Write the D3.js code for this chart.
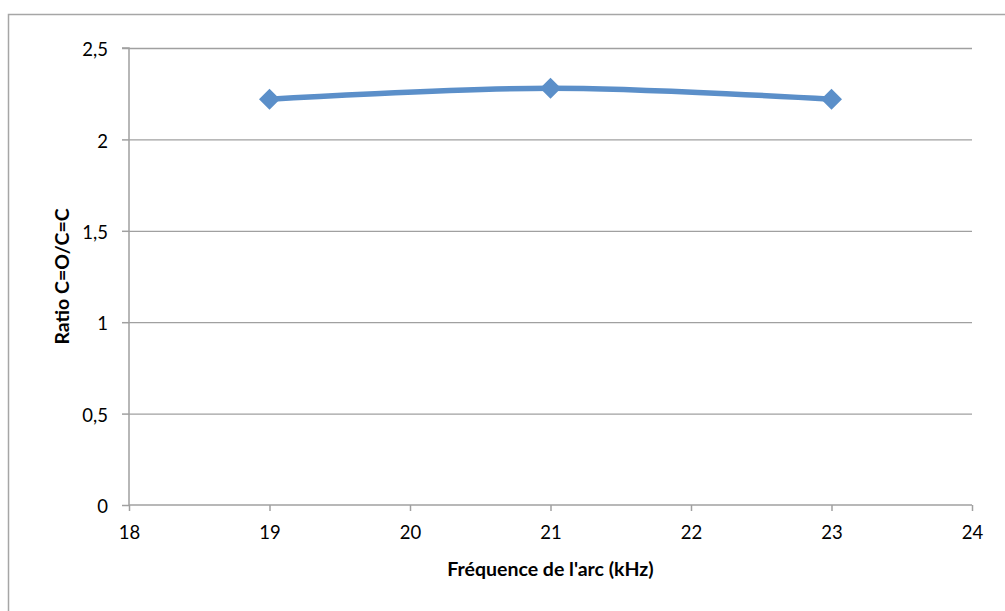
<!DOCTYPE html>
<html><head><meta charset="utf-8">
<script src="https://cdn.jsdelivr.net/npm/d3@7"></script>
<style>body{margin:0;background:#fff}svg{display:block}</style>
</head><body>
<svg id="c" width="1005" height="611"></svg>
<script>
const frequencies = [19, 21, 23];
const ratios = [2.22, 2.28, 2.22];
const xTicks = [18, 19, 20, 21, 22, 23, 24];
const yTicks = [0, 0.5, 1, 1.5, 2, 2.5];
const xTitle = "Fréquence de l'arc (kHz)";
const yTitle = "Ratio C=O/C=C";

const svg = d3.select("#c");
const font = "Lato, 'Open Sans', sans-serif";
// outer chart border (only left and top edges visible in the frame)
svg.append("path").attr("d", "M8.5,611V14.5H1005")
  .attr("fill", "none").attr("stroke", "#a6a6a6").attr("stroke-width", 1.5);

const x = d3.scaleLinear().domain([18, 24]).range([129, 972]);
const y = d3.scaleLinear().domain([0, 2.5]).range([505, 48]);

// gridlines
svg.append("g").selectAll("line").data(yTicks.filter(d => d > 0)).join("line")
  .attr("x1", x(18)).attr("x2", x(24)).attr("y1", d => y(d) + 0.5).attr("y2", d => y(d) + 0.5)
  .attr("stroke", "#a0a0a0").attr("stroke-width", 1.3);

const yAxis = svg.append("g").attr("transform", `translate(${x(18)},0)`)
  .call(d3.axisLeft(y).tickValues(yTicks).tickSize(7).tickPadding(14)
    .tickFormat(d => String(d).replace(".", ",")));
const xAxis = svg.append("g").attr("transform", `translate(0,${y(0)})`)
  .call(d3.axisBottom(x).tickValues(xTicks).tickSize(6).tickPadding(15).tickFormat(d3.format("d")));
[xAxis, yAxis].forEach(g => {
  g.select(".domain").attr("stroke", "#a0a0a0").attr("stroke-width", 1.5);
  g.selectAll(".tick line").attr("stroke", "#a0a0a0").attr("stroke-width", 1.5);
  g.selectAll("text").attr("font-family", font).attr("font-size", 18.5).attr("fill", "#000");
});
yAxis.selectAll("text").attr("dy", "0.42em");
yAxis.select(".domain").attr("d", `M-7,${y(2.5)}H0V${y(0)}`);
xAxis.select(".domain").attr("d", `M${x(18)},0H${x(24)}`);

const pts = frequencies.map((f, i) => [x(f), y(ratios[i])]);
svg.append("path").attr("d", d3.line().curve(d3.curveCatmullRom.alpha(0.5))(pts))
  .attr("fill", "none").attr("stroke", "#5b8fc9").attr("stroke-width", 5.5).attr("stroke-linecap", "round");
svg.append("g").selectAll("path").data(pts).join("path")
  .attr("transform", d => `translate(${d[0]},${d[1]})`)
  .attr("d", "M0,-10.5L10.5,0L0,10.5L-10.5,0Z")
  .attr("fill", "#5b8fc9");

svg.append("text").attr("x", (x(18) + x(24)) / 2).attr("y", 576).attr("text-anchor", "middle")
  .attr("font-family", font).attr("font-weight", "bold").attr("font-size", 19.5).text(xTitle);
svg.append("text").attr("transform", `translate(69,${(y(0) + y(2.5)) / 2}) rotate(-90)`)
  .attr("text-anchor", "middle").attr("font-family", font).attr("font-weight", "bold")
  .attr("font-size", 19.5).text(yTitle);
</script>
</body></html>
